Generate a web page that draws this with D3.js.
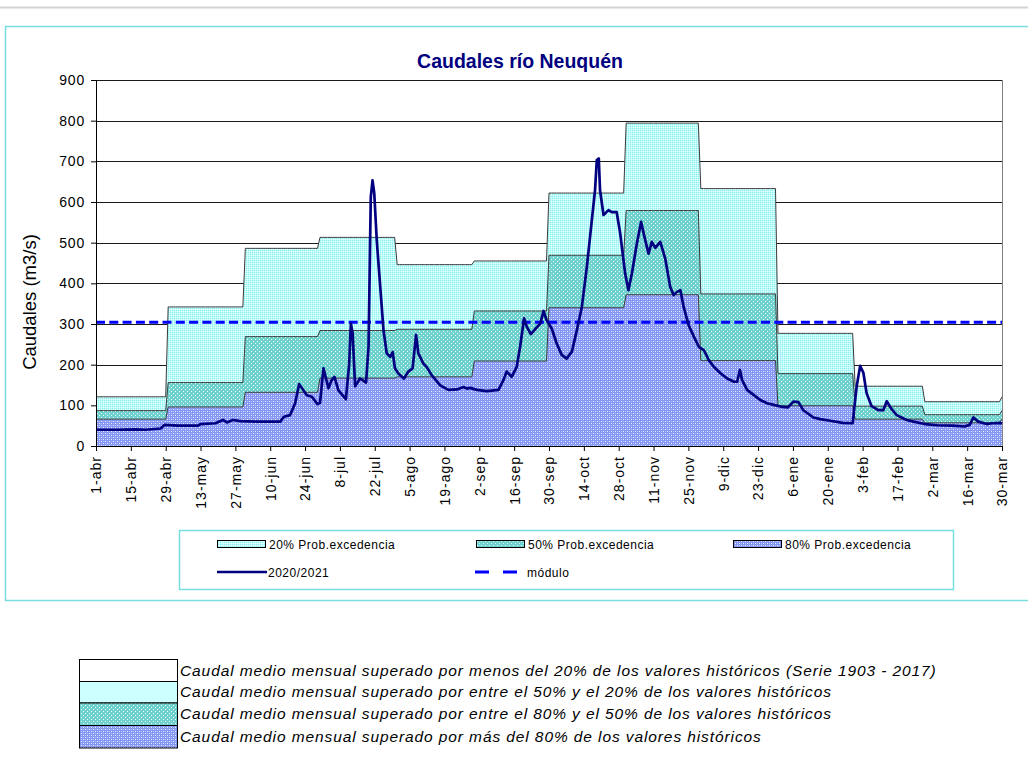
<!DOCTYPE html>
<html>
<head>
<meta charset="utf-8">
<script src="https://cdn.jsdelivr.net/npm/d3@7"></script>
<style>
body { margin: 0; background: #fff; }
svg { font-family: "Liberation Sans", Arial, sans-serif; }
</style>
</head>
<body>
<svg id="chart" width="1028" height="757"></svg>
<script>
// monthly exceedance values (abr .. mar), m3/s
var monthDays = [30, 31, 30, 31, 31, 30, 31, 30, 31, 31, 28, 31];
var p20 = [121, 342, 486, 513, 446, 455, 622, 794, 633, 277, 147, 109];
var p50 = [87, 156, 269, 284, 287, 332, 469, 579, 374, 178, 98, 77];
var p80 = [66, 96, 132, 167, 170, 209, 340, 372, 210, 99, 66, 57];
var modulo = 304;

// daily flow 2020/2021: [day since 1-abr, m3/s]
var flowDays = [0, 8, 16, 20, 26, 27.5, 33, 41, 42, 48, 51, 52.6, 55, 58, 65, 74, 75.5, 78, 80, 81.6,
  83, 84.7, 86.7, 89, 90, 91.4, 93.4, 94.5, 95.8, 97.4, 100.4, 101.7, 102.4, 103.1, 104.1, 106.1, 108.5, 109.5, 110.4, 111.1,
  111.8, 112.8, 114.4, 115.5, 116.8, 118.2, 119.2, 120.1, 121.5, 123.7, 125.5, 127.2, 128.6, 129.5, 131.5, 132.9, 134.9, 138.3, 141.6, 145,
  147.7, 149, 150.3, 153, 157, 161.7, 163.7, 165, 167, 169, 170.4, 172, 173.1, 174.7, 176.4, 178.5, 179.8, 181, 183.1, 185.1,
  187.1, 189.1, 191.2, 193.2, 195.2, 197.2, 199.2, 200.5, 201.2, 202, 202.5, 203.9, 205.9, 207.2, 209.2, 210.6, 212.6, 213.9, 215.3, 217.3,
  219, 220.4, 222, 223.3, 224.7, 226.7, 228.7, 230.7, 232.1, 233.4, 234.8, 236.1, 238.1, 240.2, 242.2, 244.2, 246.2, 248.2, 250.9, 253.6,
  256.3, 257.6, 258.7, 259.6, 261.6, 264.3, 266.9, 269.6, 272.3, 275, 278, 280.2, 282.2, 284.2, 288.2, 291, 295, 300, 304, 305.6,
  307, 308.3, 309.6, 311.6, 314.3, 316.3, 317.7, 319.5, 321.7, 325.7, 328.4, 333, 338, 344, 349, 351, 352.5, 354.5, 357.8, 360,
  363.2, 364];
var flowValues = [40, 40, 41, 40, 43, 52, 50, 50, 54, 56, 64, 58, 64, 61, 60, 60, 72, 76, 105, 152,
  140, 125, 121, 103, 106, 191, 142, 160, 170, 137, 115, 200, 301, 277, 147, 166, 156, 244, 612, 653,
  621, 506, 375, 285, 228, 219, 231, 191, 178, 166, 183, 191, 273, 228, 203, 194, 174, 149, 138, 139,
  145, 141, 143, 138, 135, 138, 162, 183, 170, 194, 244, 314, 293, 275, 287, 301, 332, 310, 289, 252,
  224, 215, 232, 285, 342, 440, 555, 629, 703, 707, 629, 568, 580, 575, 575, 523, 424, 383, 424, 498,
  551, 513, 473, 502, 487, 502, 461, 391, 371, 379, 383, 342, 297, 269, 244, 236, 211, 195, 179, 166,
  158, 158, 187, 162, 138, 125, 113, 105, 101, 97, 95, 109, 108, 88, 70, 66, 62, 57, 56, 146,
  197, 180, 130, 98, 88, 88, 110, 92, 76, 64, 60, 54, 51, 50, 48, 52, 70, 60, 54, 56,
  57, 55];

var tickDays = d3.range(0, 365, 14);
var tickLabels = ["1-abr", "15-abr", "29-abr", "13-may", "27-may", "10-jun", "24-jun", "8-jul", "22-jul",
  "5-ago", "19-ago", "2-sep", "16-sep", "30-sep", "14-oct", "28-oct", "11-nov", "25-nov", "9-dic",
  "23-dic", "6-ene", "20-ene", "3-feb", "17-feb", "2-mar", "16-mar", "30-mar"];
var yTicks = d3.range(0, 901, 100);

var bandLabels = ["20% Prob.excedencia", "50% Prob.excedencia", "80% Prob.excedencia"];
var noteLabels = [
  "Caudal medio mensual superado por menos del 20% de los valores históricos (Serie 1903 - 2017)",
  "Caudal medio mensual superado por entre el 50% y el 20% de los valores históricos",
  "Caudal medio mensual superado por entre el 80% y el 50% de los valores históricos",
  "Caudal medio mensual superado por más del 80% de los valores históricos"];

var svg = d3.select("#chart");
var plotLeft = 96, plotRight = 1002, plotTop = 80, plotBottom = 446;

var x = d3.scaleLinear().domain([0, 364]).range([plotLeft, plotRight]);
var y = d3.scaleLinear().domain([0, 900]).range([plotBottom, plotTop]);

// patterns
var defs = svg.append("defs");
function pattern(id, w, bg, dots) {
  var p = defs.append("pattern").attr("id", id).attr("width", w).attr("height", w)
    .attr("patternUnits", "userSpaceOnUse");
  p.append("rect").attr("width", w).attr("height", w).attr("fill", bg).attr("shape-rendering", "crispEdges");
  dots.forEach(function(d) {
    p.append("rect").attr("x", d[0]).attr("y", d[1]).attr("width", 1).attr("height", 1)
      .attr("fill", d[2]).attr("shape-rendering", "crispEdges");
  });
}
pattern("pat20", 2, "#bdfafa", [[0, 0, "#8ef0f0"], [1, 1, "#e6ffff"]]);
pattern("pat50", 4, "#6fd2ce", [[1, 1, "#e8fafa"], [3, 3, "#e8fafa"]]);
pattern("pat80", 4, "#8597f4", [[1, 1, "#eef0ff"], [3, 3, "#eef0ff"], [3, 1, "#b0bcf8"], [1, 3, "#b0bcf8"]]);

// page frame
svg.append("line").attr("x1", 0).attr("x2", 1028).attr("y1", 7.5).attr("y2", 7.5)
  .attr("stroke", "#d4d4d4").attr("stroke-width", 2);
svg.append("rect").attr("x", 5.5).attr("y", 26.5).attr("width", 1030).attr("height", 574)
  .attr("fill", "none").attr("stroke", "#7adede").attr("stroke-width", 1.5);

// title
svg.append("text").attr("x", 520).attr("y", 68).attr("text-anchor", "middle")
  .attr("font-size", 19.5).attr("font-weight", "bold").attr("fill", "#000080")
  .text("Caudales río Neuquén");

// gridlines
svg.append("g").selectAll("line").data(yTicks.slice(1)).enter().append("line")
  .attr("x1", plotLeft).attr("x2", plotRight)
  .attr("y1", function(d) { return Math.round(y(d)) + 0.5; })
  .attr("y2", function(d) { return Math.round(y(d)) + 0.5; })
  .attr("stroke", "#1a1a1a").attr("stroke-width", 1);

// monthly steps, one day early like the original sheet
var monthStart = [0];
monthDays.forEach(function(d) { monthStart.push(monthStart[monthStart.length - 1] + d); });
var bandData = d3.range(0, 365).map(function(i) {
  var m = d3.bisectRight(monthStart, (i + 1) % 365) - 1;
  return { day: i, p20: p20[m], p50: p50[m], p80: p80[m] };
});

var bands = [
  { key: "p20", fill: "url(#pat20)" },
  { key: "p50", fill: "url(#pat50)" },
  { key: "p80", fill: "url(#pat80)" }
];
bands.forEach(function(b) {
  var area = d3.area()
    .x(function(d) { return x(d.day); })
    .y0(y(0))
    .y1(function(d) { return y(d[b.key]); });
  var edge = d3.line()
    .x(function(d) { return x(d.day); })
    .y(function(d) { return y(d[b.key]); });
  svg.append("path").datum(bandData).attr("d", area).attr("fill", b.fill);
  svg.append("path").datum(bandData).attr("d", edge).attr("fill", "none")
    .attr("stroke", "#3a3a3a").attr("stroke-width", 1);
});

// plot border (right side)
svg.append("line").attr("x1", plotRight + 0.5).attr("x2", plotRight + 0.5)
  .attr("y1", plotTop).attr("y2", plotBottom).attr("stroke", "#808080");

// módulo
svg.append("line").attr("x1", plotLeft).attr("x2", plotRight).attr("y1", y(modulo)).attr("y2", y(modulo))
  .attr("stroke", "#0000ff").attr("stroke-width", 3).attr("stroke-dasharray", "9,4.3");

// flow line
var flow = flowDays.map(function(d, i) { return [d, flowValues[i]]; });
svg.append("path").datum(flow)
  .attr("d", d3.line().x(function(d) { return x(d[0]); }).y(function(d) { return y(d[1]); }))
  .attr("fill", "none").attr("stroke", "#000080").attr("stroke-width", 2.7)
  .attr("stroke-linejoin", "round");

// axes
var yAxis = svg.append("g").attr("transform", "translate(" + plotLeft + ",0)")
  .call(d3.axisLeft(y).tickValues(yTicks).tickSize(5).tickPadding(6));
yAxis.selectAll("text").attr("font-size", 14).attr("letter-spacing", 0.8).attr("fill", "#000")
  .attr("font-family", "Liberation Sans, Arial, sans-serif");
yAxis.selectAll("line, path").attr("stroke", "#000");

var xAxis = svg.append("g").attr("transform", "translate(0," + plotBottom + ")")
  .call(d3.axisBottom(x).tickValues(tickDays).tickSize(5)
    .tickFormat(function(d, i) { return tickLabels[i]; }));
xAxis.selectAll("line, path").attr("stroke", "#000");
xAxis.selectAll("text")
  .attr("font-size", 14).attr("letter-spacing", 1).attr("fill", "#000")
  .attr("font-family", "Liberation Sans, Arial, sans-serif")
  .attr("text-anchor", "end")
  .attr("transform", "rotate(-90)")
  .attr("x", -10).attr("y", 0).attr("dy", "0.35em");

// y title
svg.append("text").attr("transform", "translate(36,302) rotate(-90)")
  .attr("text-anchor", "middle").attr("font-size", 18.5).attr("fill", "#000")
  .text("Caudales (m3/s)");

// legend
var lg = svg.append("g");
lg.append("rect").attr("x", 179.5).attr("y", 530.5).attr("width", 774).attr("height", 59)
  .attr("fill", "#fff").attr("stroke", "#7adede").attr("stroke-width", 1.5);
var legX = [217, 476, 733];
bands.forEach(function(b, i) {
  lg.append("rect").attr("x", legX[i] + 0.5).attr("y", 540.5).attr("width", 48).attr("height", 7)
    .attr("fill", b.fill).attr("stroke", "#000").attr("stroke-width", 1);
  lg.append("text").attr("x", legX[i] + 52).attr("y", 549).attr("font-size", 12).attr("letter-spacing", 0.5)
    .text(bandLabels[i]);
});
lg.append("line").attr("x1", 217).attr("x2", 267).attr("y1", 572).attr("y2", 572)
  .attr("stroke", "#000080").attr("stroke-width", 2.5);
lg.append("text").attr("x", 268).attr("y", 577).attr("font-size", 12).attr("letter-spacing", 0.5)
  .text("2020/2021");
lg.append("line").attr("x1", 475).attr("x2", 520).attr("y1", 572).attr("y2", 572)
  .attr("stroke", "#0000ff").attr("stroke-width", 3).attr("stroke-dasharray", "14,14");
lg.append("text").attr("x", 527).attr("y", 577).attr("font-size", 12).attr("letter-spacing", 0.5)
  .text("módulo");

// notes at the bottom
var noteFills = ["#ffffff", "#ccffff", "url(#pat50)", "url(#pat80)"];
var noteTop = [659.5, 681.5, 703, 725.5, 748];
var notes = svg.append("g");
noteLabels.forEach(function(t, i) {
  notes.append("rect").attr("x", 79.5).attr("y", noteTop[i])
    .attr("width", 98).attr("height", noteTop[i + 1] - noteTop[i])
    .attr("fill", noteFills[i]).attr("stroke", "#000").attr("stroke-width", 1);
  notes.append("text").attr("x", 180).attr("y", (noteTop[i] + noteTop[i + 1]) / 2 + 5)
    .attr("font-size", 15.5).attr("font-style", "italic").attr("letter-spacing", 0.9)
    .text(t);
});
</script>
</body>
</html>
